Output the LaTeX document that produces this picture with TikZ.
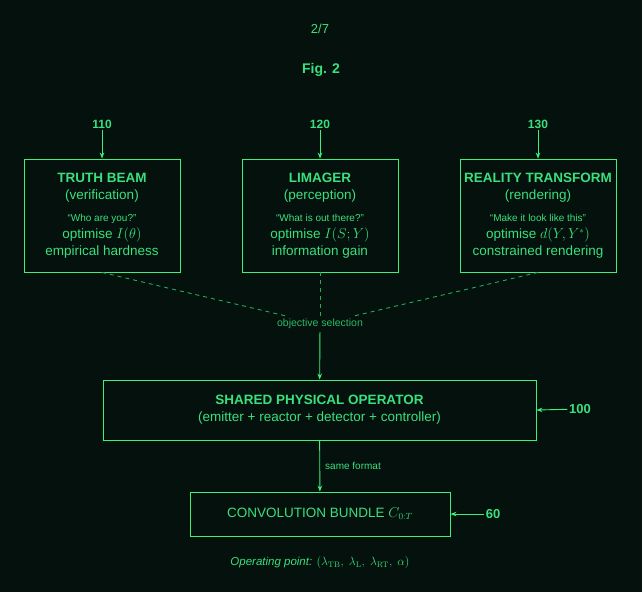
\documentclass[tikz,border=0pt]{standalone}
\usepackage[no-math]{fontspec}
\setmainfont{Liberation Sans}
\usetikzlibrary{arrows.meta}
\definecolor{bgdark}{HTML}{04110D}
\definecolor{phosphor}{HTML}{3CF080}
\definecolor{phosphortext}{HTML}{3AE07E}
\definecolor{phosphordim}{HTML}{28A85C}
\newcommand{\bodyfont}{\fontsize{13.5bp}{17bp}\selectfont}
\newcommand{\smallfont}{\fontsize{10bp}{12bp}\selectfont}
\newcommand{\reffont}{\fontsize{12bp}{14bp}\selectfont\bfseries}
\tikzset{
  box/.style={draw=phosphor, line width=0.85bp, text=phosphortext, align=center, inner sep=0pt},
  objbox/.style={box, minimum width=156bp, minimum height=113bp, font=\bodyfont},
  reflabel/.style={text=phosphortext, font=\reffont, inner sep=1.5bp},
  note/.style={text=phosphortext, font=\smallfont, inner sep=3bp},
  link/.style={draw=phosphor, line width=0.9bp, -{Stealth[length=6bp,width=4.5bp]}},
  sel/.style={draw=phosphordim, line width=0.9bp, dash pattern=on 4bp off 4bp}
}
\begin{document}
\begin{tikzpicture}[x=1bp, y=-1bp]
  \fill[bgdark] (0,0) rectangle (642,592);
  \useasboundingbox (0,0) rectangle (642,592);
  \node[text=phosphortext, font=\fontsize{13bp}{15bp}\selectfont] (page) at (320,29) {2/7};
  \node[reflabel, font=\fontsize{14bp}{16bp}\selectfont\bfseries] (fig) at (321,70) {Fig. 2};
  % the three objectives
  \foreach \i/\x/\num/\title/\role/\ask/\goal/\gain in {
      1/102/110/TRUTH BEAM/verification/Who are you?/{$I(\theta)$}/empirical hardness,
      2/320/120/LIMAGER/perception/What is out there?/{$I(S;Y)$}/information gain,
      3/538/130/REALITY TRANSFORM/rendering/Make it look like this/{$d(Y,Y^*)$}/constrained rendering}
  {
    \node[objbox] (obj\i) at (\x,215.5)
      {\textbf{\title}\\(\role)\\[5bp]{\smallfont ``\ask''}\\optimise \goal\\\gain};
    \node[reflabel] (ref\i) at (\x,124) {\num};
    \draw[link] (ref\i) -- (obj\i);
  }
  \node[note, text=phosphordim!70!phosphortext, font=\fontsize{10.5bp}{12bp}\selectfont] (sel) at (320,324) {objective selection};
  \foreach \i in {1,2,3}
    \draw[sel] (obj\i.south) -- (sel);
  \node[box, minimum width=433bp, minimum height=60bp, font=\bodyfont] (spo) at (319.5,410)
    {\textbf{SHARED PHYSICAL OPERATOR}\\(emitter + reactor + detector + controller)};
  \node[box, minimum width=260bp, minimum height=44bp, font=\bodyfont] (cb) at (320,514)
    {CONVOLUTION BUNDLE $C_{0:T}$};
  \draw[link] (sel) -- (spo);
  \draw[link] (spo) -- (cb) node[note, midway, anchor=west, xshift=2bp] (fmt) {same format};
  \node[reflabel, font=\fontsize{13bp}{15bp}\selectfont\bfseries] (ref100) at (580,409) {100};
  \draw[link] (ref100) -- (spo.east);
  \node[reflabel, font=\fontsize{13bp}{15bp}\selectfont\bfseries] (ref60) at (493,514) {60};
  \draw[link] (ref60) -- (cb.east);
  \node[note, font=\fontsize{11.5bp}{13bp}\selectfont] (op) at (320,563)
    {\textit{Operating point:} $(\lambda_{\mathrm{TB}},\ \lambda_{\mathrm{L}},\ \lambda_{\mathrm{RT}},\ \alpha)$};
\end{tikzpicture}
\end{document}
